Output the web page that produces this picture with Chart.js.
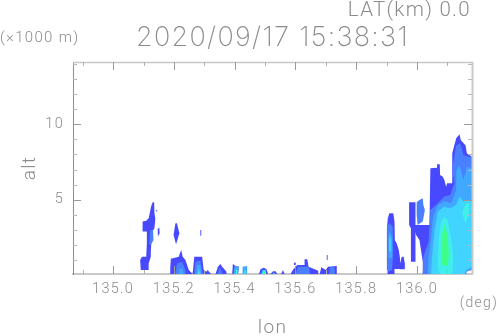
<!DOCTYPE html>
<html><head><meta charset="utf-8">
<style>html,body{margin:0;padding:0;background:#fff}canvas{display:block}</style>
<script src="https://cdn.jsdelivr.net/npm/chart.js@4"></script>
</head><body><canvas id="c" width="498" height="336"></canvas>
<script>
const titleText = "2020/09/17 15:38:31";
const latText = "LAT(km) 0.0";
const altUnitText = "(\u00d71000 m)";
const lonUnitText = "(deg)";
const lonTicks = [135.0,135.2,135.4,135.6,135.8,136.0];
const lonMinor = [134.9,135.1,135.3,135.5,135.7,135.9,136.1];
const altTicks = [5,10];
const altMinor = [1,2,3,4,6,7,8,9,11,12,13,14];
const levelColors = ["#4848ff","#4a80ff","#40a8ff","#40d4ff","#40eeea","#40ff88"];

// each shape: contour level (1 = weakest) and its [lon, alt] outline
const blobC1 = [[135.130,4.83],[135.135,4.83],[135.136,4.11],[135.139,3.78],[135.136,3.12],[135.128,2.90],[135.124,1.57],[135.124,1.24],[135.117,.80],[135.117,.36],[135.091,.36],[135.089,1.02],[135.095,1.24],[135.109,1.24],[135.111,2.12],[135.111,2.90],[135.097,2.90],[135.097,3.56],[135.109,3.62],[135.117,3.78],[135.125,4.55]];
const blobC2 = [[135.122,3.01],[135.131,3.01],[135.133,2.35],[135.124,2.02],[135.119,2.12]];
const speckA = [[135.142,4.33],[135.145,4.33],[135.145,4.22],[135.142,4.22]];
const speckB = [[135.147,3.05],[135.152,3.18],[135.153,2.79],[135.147,2.57]];
const speckC = [[135.287,3.01],[135.290,3.01],[135.290,2.63],[135.287,2.63]];
const blobD1 = [[135.205,3.45],[135.210,3.45],[135.218,2.79],[135.210,2.24],[135.207,2.06],[135.199,2.68]];
const blobE1 = [[135.188,.1],[135.188,.47],[135.190,1.13],[135.194,1.13],[135.216,1.24],[135.224,1.68],[135.229,1.24],[135.238,1.02],[135.249,.36],[135.260,.14],[135.260,.1]];
const blobE2 = [[135.205,.1],[135.210,.80],[135.227,.91],[135.238,.36],[135.238,.1]];
const blobE3 = [[135.216,.1],[135.219,.47],[135.228,.47],[135.232,.1]];
const blobF1 = [[135.261,.1],[135.263,.36],[135.267,1.24],[135.293,1.24],[135.298,.36],[135.307,.25],[135.311,.36],[135.322,.1]];
const blobF2 = [[135.267,.1],[135.271,.91],[135.287,.98],[135.295,.1]];
const blobF3 = [[135.274,.1],[135.276,.69],[135.287,.69],[135.290,.1]];
const blobF4 = [[135.278,.1],[135.282,.47],[135.287,.1]];
const blobG1 = [[135.337,.1],[135.345,.58],[135.353,.76],[135.359,.58],[135.373,.25],[135.373,.1]];
const blobG2 = [[135.344,.1],[135.351,.54],[135.361,.1]];
const blobH1 = [[135.392,.1],[135.394,.76],[135.403,.63],[135.414,.58],[135.411,.1]];
const blobH3 = [[135.397,.1],[135.399,.58],[135.414,.58],[135.411,.1]];
const blobH5 = [[135.400,.1],[135.402,.40],[135.408,.40],[135.408,.1]];
const blobS3 = [[135.426,.1],[135.426,.58],[135.441,.63],[135.441,.1]];
const blobS4 = [[135.430,.1],[135.431,.35],[135.437,.35],[135.438,.1]];
const blobI1 = [[135.480,.1],[135.485,.41],[135.496,.52],[135.505,.41],[135.510,.1]];
const blobI4 = [[135.487,.1],[135.492,.36],[135.500,.36],[135.505,.1]];
const blobI6 = [[135.493,.1],[135.494,.25],[135.499,.25],[135.500,.1]];
const blobJ1 = [[135.518,.1],[135.526,.28],[135.535,.28],[135.540,.1]];
const blobJ4 = [[135.525,.1],[135.529,.22],[135.533,.1]];
const blobK1 = [[135.553,.1],[135.559,.36],[135.564,.1]];
const blobL1 = [[135.584,.1],[135.593,.41],[135.601,.58],[135.606,.69],[135.630,.69],[135.630,1.07],[135.639,1.07],[135.643,.58],[135.663,.41],[135.675,.32],[135.675,.1]];
const blobL2 = [[135.601,.1],[135.608,.58],[135.645,.58],[135.648,.1]];
const speckD = [[135.595,.85],[135.601,.85],[135.601,.69],[135.595,.69]];
const speckE = [[135.703,1.35],[135.706,1.35],[135.706,1.02],[135.703,1.02]];
const blobM1 = [[135.680,.1],[135.685,.54],[135.700,.36],[135.707,.58],[135.736,.63],[135.736,.1]];
const blobM2 = [[135.711,.1],[135.714,.54],[135.729,.54],[135.729,.1]];
const blobA1 = [[135.901,.1],[135.901,3.12],[135.904,3.78],[135.909,4.11],[135.922,4.11],[135.926,3.56],[135.927,2.34],[135.933,2.13],[135.940,1.68],[135.944,1.15],[135.944,.43],[135.926,.43],[135.926,.1]];
const blobA1b = [[135.944,.80],[135.950,1.24],[135.956,1.24],[135.960,.80],[135.960,.41],[135.944,.41]];
const blobA2 = [[135.902,.25],[135.902,3.23],[135.909,3.45],[135.920,3.23],[135.922,1.5],[135.918,.36]];
const blobA3 = [[135.906,1.15],[135.906,2.67],[135.912,2.90],[135.918,2.45],[135.918,1.15]];
const blobA4 = [[135.908,1.6],[135.908,2.45],[135.912,2.6],[135.915,2.2],[135.915,1.6]];
const blobB1 = [[135.974,4.83],[135.995,4.83],[135.995,3.34],[136.041,3.34],[136.044,7.08],[136.066,7.12],[136.066,7.34],[136.075,7.34],[136.076,6.64],[136.085,6.53],[136.090,6.31],[136.096,5.87],[136.099,6.09],[136.116,6.09],[136.116,8.07],[136.129,9.06],[136.140,9.33],[136.144,8.95],[136.160,8.58],[136.164,8.07],[136.181,7.85],[136.181,.36],[136.162,.36],[136.162,.1],[136.019,.1],[136.019,.91],[136.008,2.34],[135.997,2.67],[135.995,2.90],[135.995,.91],[135.980,.91],[135.980,3.12],[135.974,3.34]];
const blobB2 = [[135.999,4.83],[136.008,4.99],[136.019,5.10],[136.021,4.66],[136.026,4.33],[136.019,3.56],[136.002,3.34],[135.999,4.00]];
const blobN2 = [[136.019,.1],[136.021,1.24],[136.038,2.23],[136.041,3.34],[136.043,4.33],[136.063,4.66],[136.090,5.21],[136.109,5.32],[136.123,6.09],[136.116,7.08],[136.129,8.58],[136.142,8.73],[136.153,7.96],[136.170,7.85],[136.181,7.85],[136.181,.36],[136.162,.25],[136.162,.1]];
const blobN3 = [[136.035,.1],[136.038,1.15],[136.046,2.45],[136.052,3.78],[136.068,4.66],[136.090,4.92],[136.112,4.77],[136.129,5.65],[136.129,6.86],[136.138,7.30],[136.145,6.97],[136.153,6.31],[136.164,7.19],[136.181,7.08],[136.181,.47],[136.162,.25],[136.160,.1]];
const blobN4 = [[136.046,.1],[136.049,1.15],[136.057,2.90],[136.068,4.22],[136.090,4.55],[136.107,4.44],[136.129,4.66],[136.140,5.21],[136.153,4.88],[136.167,4.99],[136.181,4.99],[136.181,.58],[136.162,.36],[136.156,.1]];
const blobN5 = [[136.068,.47],[136.071,2.45],[136.079,3.56],[136.090,3.89],[136.101,3.67],[136.112,2.45],[136.120,1.15],[136.116,.1],[136.075,.1]];
const blobN5b = [[136.148,4.11],[136.160,4.77],[136.173,4.77],[136.170,4.00],[136.160,3.45]];
const blobN6 = [[136.079,.69],[136.082,2.67],[136.090,3.34],[136.101,2.67],[136.105,1.33],[136.101,.58],[136.090,.69]];

const shapes = [
 [1,blobC1],[2,blobC2],[1,speckA],[1,speckB],[1,speckC],[1,blobD1],
 [1,blobE1],[2,blobE2],[3,blobE3],[1,blobF1],[2,blobF2],[3,blobF3],[4,blobF4],
 [1,blobG1],[2,blobG2],[1,blobH1],[3,blobH3],[5,blobH5],[3,blobS3],[4,blobS4],
 [1,blobI1],[4,blobI4],[6,blobI6],[1,blobJ1],[4,blobJ4],[1,blobK1],
 [1,blobL1],[2,blobL2],[1,speckD],[1,speckE],[1,blobM1],[2,blobM2],
 [1,blobA1],[1,blobA1b],[2,blobA2],[3,blobA3],[4,blobA4],
 [1,blobB1],[2,blobB2],[2,blobN2],[3,blobN3],[4,blobN4],[5,blobN5],[5,blobN5b],[6,blobN6]
];

const datasets = shapes.map(([level,pts]) => ({
  data: pts.map(p => ({x:p[0],y:p[1]})),
  pointRadius:0, borderWidth:0,
  backgroundColor:levelColors[level-1],
  order:10-level
}));

// fill each dataset's closed outline from the points the library placed on its scales
const contourFill = {
  id:'contourFill',
  beforeDraw(chart){ chart.ctx.letterSpacing='1.3px'; },
  beforeDatasetDraw(chart,args){
    const {ctx,chartArea:a} = chart;
    const pts = args.meta.data;
    ctx.save();
    ctx.beginPath();ctx.rect(a.left,a.top,a.right-a.left+1,a.bottom-a.top);ctx.clip();
    ctx.beginPath();
    pts.forEach((p,i)=> i?ctx.lineTo(p.x,p.y):ctx.moveTo(p.x,p.y));
    ctx.closePath();
    ctx.fillStyle=chart.data.datasets[args.index].backgroundColor;
    ctx.fill();
    ctx.restore();
  }
};

const textGray = "#8c8c8c";
const frame = {
  id:'frame',
  afterDatasetsDraw(chart){
    const {ctx,chartArea:a,scales:{x,y}} = chart;
    ctx.save();
    const tick=(x1,y1,x2,y2,c,w)=>{ctx.strokeStyle=c;ctx.lineWidth=w;ctx.beginPath();ctx.moveTo(x1,y1);ctx.lineTo(x2,y2);ctx.stroke();};
    tick(a.left,a.top+.5,a.right+1,a.top+.5,"#c8c8c8",1.5);
    tick(a.right+.5,a.top,a.right+.5,a.bottom,"#c8c8c8",2);
    lonTicks.forEach(v=>{const p=Math.round(x.getPixelForValue(v))+.5;tick(p,a.top,p,a.top+8,"#9a9a9a",1);tick(p,a.bottom,p,a.bottom-8,"#9a9a9a",1);});
    lonMinor.forEach(v=>{const p=Math.round(x.getPixelForValue(v))+.5;tick(p,a.top,p,a.top+4,"#b0b0b0",1);tick(p,a.bottom,p,a.bottom-4,"#b0b0b0",1);});
    altTicks.forEach(v=>{const p=Math.round(y.getPixelForValue(v))+.5;tick(a.left,p,a.left+8,p,"#9a9a9a",1);tick(a.right,p,a.right-8,p,"#9a9a9a",1);});
    altMinor.forEach(v=>{const p=Math.round(y.getPixelForValue(v))+.5;tick(a.left,p,a.left+4,p,"#b8b8b8",1);tick(a.right,p,a.right-4,p,"#b8b8b8",1);});
    ctx.fillStyle=textGray;ctx.textBaseline='middle';
    ctx.textAlign='right';ctx.font='300 20.5px "Roboto"';ctx.fillText(latText,471,10.5);
    ctx.textAlign='left';ctx.font='300 15px "Roboto"';ctx.fillText(altUnitText,0,38);
    ctx.textAlign='right';ctx.font='300 14px "Roboto"';ctx.fillText(lonUnitText,498,303);
    ctx.restore();
  }
};

new Chart(document.getElementById('c'),{
  type:'scatter',
  data:{datasets},
  plugins:[contourFill,frame],
  options:{
    responsive:false,animation:false,events:[],
    layout:{padding:{left:0,right:26,top:0,bottom:0}},
    plugins:{
      legend:{display:false},tooltip:{enabled:false},
      title:{display:true,fullSize:false,text:titleText,color:textGray,font:{family:'Inter',size:27,weight:200,lineHeight:1},padding:{top:24.5,bottom:10.5}}
    },
    scales:{
      x:{type:'linear',min:134.868,max:136.181,
        afterBuildTicks(s){s.ticks=lonTicks.map(v=>({value:v}));},
        afterFit(s){s.height=62;},
        grid:{display:false,drawTicks:false},
        border:{display:true,color:"#c8c8c8",width:2},
        ticks:{color:textGray,font:{family:'Roboto',size:14.5,weight:300},padding:7,maxRotation:0,autoSkip:false,callback:v=>v.toFixed(1)},
        title:{display:true,text:"lon",color:textGray,font:{family:'Roboto',size:19,weight:300,lineHeight:1},padding:{top:0,bottom:-2}}
      },
      y:{type:'linear',min:0.1,max:14.1,
        afterBuildTicks(s){s.ticks=altTicks.map(v=>({value:v}));},
        afterFit(s){s.width=73;},
        grid:{display:false,drawTicks:false},
        border:{display:true,color:"#8c8c8c",width:1},
        ticks:{color:textGray,font:{family:'Roboto',size:14.5,weight:300},padding:9,autoSkip:false,callback:v=>String(v)},
        title:{display:true,text:"alt",color:textGray,font:{family:'Roboto',size:19,weight:300,lineHeight:1},padding:{top:21,bottom:0}}
      }
    }
  }
});
</script></body></html>
